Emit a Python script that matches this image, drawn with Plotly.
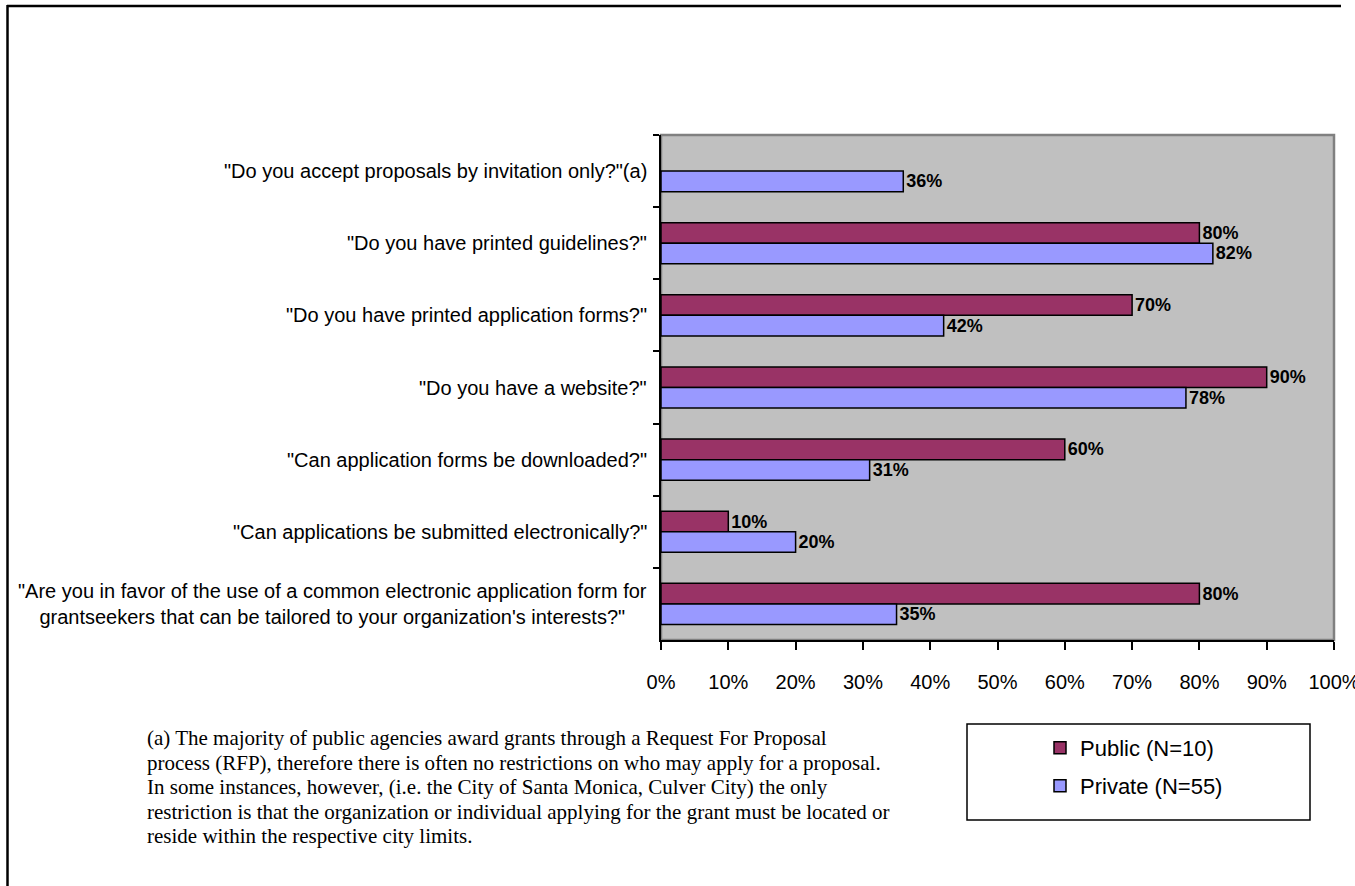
import plotly.graph_objects as go

# Survey questions, listed top to bottom
questions = [
    '"Do you accept proposals by invitation only?"(a)',
    '"Do you have printed guidelines?"',
    '"Do you have printed application forms?"',
    '"Do you have a website?"',
    '"Can application forms be downloaded?"',
    '"Can applications be submitted electronically?"',
    '"Are you in favor of the use of a common electronic application form for<br>grantseekers that can be tailored to your organization\'s interests?"',
]
public_pct = [None, 80, 70, 90, 60, 10, 80]
private_pct = [36, 82, 42, 78, 31, 20, 35]
x_ticks = [0, 10, 20, 30, 40, 50, 60, 70, 80, 90, 100]
x_tick_labels = [f"{v}%" for v in x_ticks]

footnote_lines = [
    "(a) The majority of public agencies award grants through a Request For Proposal",
    "process (RFP), therefore there is often no restrictions on who may apply for a proposal.",
    "In some instances, however, (i.e. the City of Santa Monica, Culver City) the only",
    "restriction is that the organization or individual applying for the grant must be located or",
    "reside within the respective city limits.",
]

W, H = 1355, 886
PL, PR, PT, PB = 661, 1334, 135, 640  # plot area in pixels


def px(xp):
    return (xp - PL) / (PR - PL)


def py(yp):
    return (PB - yp) / (PB - PT)


def pct_text(vals):
    return [None if v is None else f"{v}%" for v in vals]


SANS = "Liberation Sans, Arial, sans-serif"
SERIF = "Liberation Serif, Times New Roman, serif"
LABEL_FONT = dict(family=SANS, size=18, color="black", weight="bold")

fig = go.Figure()
fig.add_trace(go.Bar(
    y=questions, x=public_pct, orientation="h", name="Public (N=10)",
    marker=dict(color="#993366", line=dict(color="black", width=1.5)),
    text=pct_text(public_pct), texttemplate="%{text}", textposition="outside",
    cliponaxis=False, textfont=LABEL_FONT,
    legend="legend", hoverinfo="skip",
))
fig.add_trace(go.Bar(
    y=questions, x=private_pct, orientation="h", name="Private (N=55)",
    marker=dict(color="#9999FF", line=dict(color="black", width=1.5)),
    text=pct_text(private_pct), texttemplate="%{text}", textposition="outside",
    cliponaxis=False, textfont=LABEL_FONT,
    legend="legend2", hoverinfo="skip",
))

shapes = [
    # outer frame: top and left edges
    dict(type="line", xref="paper", yref="paper", x0=px(7), x1=px(1341), y0=py(6), y1=py(6),
         line=dict(color="black", width=2.5)),
    dict(type="line", xref="paper", yref="paper", x0=px(7.5), x1=px(7.5), y0=py(5), y1=py(890),
         line=dict(color="black", width=2.5)),
    # plot area frame (top/right)
    dict(type="rect", xref="paper", yref="paper", x0=0, x1=1, y0=0, y1=1,
         line=dict(color="#808080", width=2.5), layer="below"),
    # legend box
    dict(type="rect", xref="paper", yref="paper", x0=px(967), x1=px(1310), y0=py(820), y1=py(724),
         line=dict(color="black", width=1.5), fillcolor="white"),
]

annotations = []
for q in questions:
    annotations.append(dict(
        xref="paper", yref="y", x=px(649), y=q, xanchor="right", yanchor="middle",
        text=q, showarrow=False, align="center",
        font=dict(family=SANS, size=20, color="black"),
    ))
for i, line in enumerate(footnote_lines):
    annotations.append(dict(
        xref="paper", yref="paper", x=px(145), y=py(738 + 24.5 * i),
        xanchor="left", yanchor="middle",
        text=line, showarrow=False, align="left",
        font=dict(family=SERIF, size=21, color="black"),
    ))

legend_common = dict(
    xref="paper", yref="paper", xanchor="left", yanchor="middle",
    bgcolor="rgba(0,0,0,0)", borderwidth=0,
    font=dict(family=SANS, size=22, color="black"),
    itemclick=False, itemdoubleclick=False,
)

fig.update_layout(
    width=W, height=H,
    margin=dict(l=PL, r=W - PR, t=PT, b=H - PB, pad=0, autoexpand=False),
    paper_bgcolor="white", plot_bgcolor="#C0C0C0",
    barmode="group", bargap=0.43, bargroupgap=0,
    showlegend=True,
    legend=dict(x=px(1040), y=py(748), **legend_common),
    legend2=dict(x=px(1040), y=py(786), **legend_common),
    xaxis=dict(
        range=[0, 100], tickvals=x_ticks, ticktext=x_tick_labels,
        showgrid=False, zeroline=False, showline=True, linecolor="black", linewidth=1.5,
        ticks="outside", ticklen=8, tickwidth=1.5, tickcolor="black",
        ticklabelstandoff=15, ticklabeloverflow="allow", automargin=False,
        tickfont=dict(family=SANS, size=20, color="black"), fixedrange=True,
    ),
    yaxis=dict(
        autorange="reversed", showticklabels=False, tickson="boundaries", automargin=False,
        showgrid=False, zeroline=False, showline=True, linecolor="black", linewidth=1.5,
        ticks="outside", ticklen=6, tickwidth=1.5, tickcolor="black", fixedrange=True,
    ),
    shapes=shapes, annotations=annotations,
)

fig.write_html("out.html", config={"displayModeBar": False})
